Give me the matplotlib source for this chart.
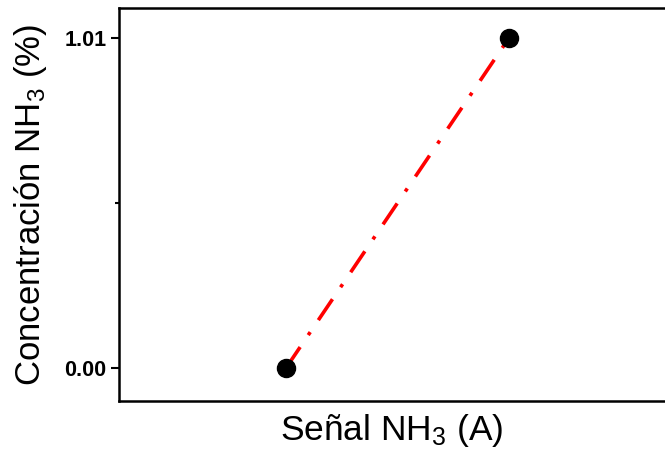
import matplotlib
matplotlib.use('Agg')
import matplotlib.pyplot as plt

# Calibration data: NH3 signal vs concentration
signal = [0.0, 1.0]
concentration = [0.00, 1.01]
ytick_vals = [0.00, 1.01]
ytick_labels = ['0.00', '1.01']

plt.rcParams['font.family'] = ['Liberation Sans', 'DejaVu Sans']
plt.rcParams['mathtext.fontset'] = 'custom'
plt.rcParams['mathtext.rm'] = 'Liberation Sans'
plt.rcParams['mathtext.it'] = 'Liberation Sans'

fig = plt.figure(figsize=(6.65, 4.61), dpi=100)
ax = fig.add_axes([119 / 665, 60 / 461, 1 - 119 / 665, 393 / 461])

ax.plot(signal, concentration, color='red', linestyle='-.', lw=2.6,
        dashes=(7, 4, 1, 4), zorder=2)
ax.plot(signal, concentration, 'o', color='black', ms=13, zorder=3)

ax.set_xlim(-0.749, 1.70)
ax.set_ylim(-0.101, 1.102)

ax.set_yticks(ytick_vals)
ax.set_yticklabels(ytick_labels, fontweight='bold', fontsize=15.5)
ax.set_yticks([0.505], minor=True)
ax.set_xticks([])
ax.tick_params(axis='y', which='major', direction='out', length=6, width=1.5,
               pad=3)
ax.tick_params(axis='y', which='minor', direction='out', length=3, width=1.5)

for side in ['left', 'bottom', 'top']:
    ax.spines[side].set_linewidth(1.8)
ax.spines['right'].set_visible(False)

ax.set_xlabel('Señal NH$_\\mathregular{3}$ (A)', fontsize=25.5, labelpad=8)
ax.set_ylabel('Concentración NH$_\\mathregular{3}$ (%)', fontsize=25,
              labelpad=11)

fig.savefig('out.png', dpi=100)
